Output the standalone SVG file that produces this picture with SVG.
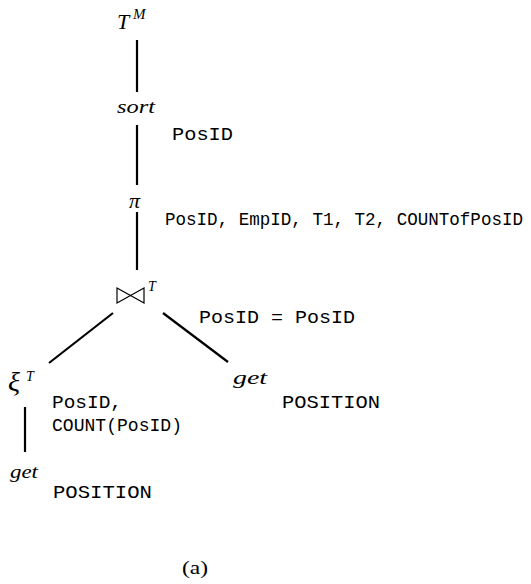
<svg xmlns="http://www.w3.org/2000/svg" width="531" height="584" viewBox="0 0 531 584">
<style>
.m{font-family:"Liberation Serif",serif;font-style:italic;fill:#000}
.t{font-family:"Liberation Mono","Courier New",monospace;font-size:19px;fill:#000}
.r{font-family:"Liberation Serif",serif;fill:#000}
.e{stroke:#000;stroke-width:2.2;fill:none}
</style>
<rect width="531" height="584" fill="#fff"/>
<g id="connectors">
<line class="e" x1="137" y1="40" x2="137" y2="92"/>
<line class="e" x1="137" y1="125" x2="137" y2="185"/>
<line class="e" x1="137" y1="212" x2="137" y2="270"/>
<line class="e" x1="113" y1="313" x2="49" y2="363"/>
<line class="e" x1="163" y1="313" x2="228" y2="362"/>
<line class="e" x1="25" y1="407" x2="25" y2="452"/>
</g>
<g id="root">
<text class="m" x="117" y="29" font-size="22">T</text>
<text class="m" x="133" y="19" font-size="15">M</text>
</g>
<g id="sort">
<text class="m" x="117" y="113" font-size="18" textLength="38" lengthAdjust="spacingAndGlyphs">sort</text>
<text class="t" x="172" y="140" textLength="61" lengthAdjust="spacingAndGlyphs">PosID</text>
</g>
<g id="project">
<text class="m" x="129" y="208" font-size="22">π</text>
<text class="t" x="165" y="225" font-size="16.5" textLength="358" lengthAdjust="spacingAndGlyphs">PosID, EmpID, T1, T2, COUNTofPosID</text>
</g>
<g id="join">
<path d="M117 288 L117 303 L144 288 L144 303 Z" fill="none" stroke="#000" stroke-width="1.2"/>
<text class="m" x="148" y="291" font-size="14">T</text>
<text class="t" x="199" y="323" textLength="156" lengthAdjust="spacingAndGlyphs">PosID = PosID</text>
</g>
<g id="xi">
<text class="m" x="8" y="391" font-size="28">ξ</text>
<text class="m" x="26" y="381" font-size="14">T</text>
<text class="t" x="52" y="408" textLength="70" lengthAdjust="spacingAndGlyphs">PosID,</text>
<text class="t" x="52" y="431" textLength="130" lengthAdjust="spacingAndGlyphs">COUNT(PosID)</text>
</g>
<g id="get_right">
<text class="m" x="233" y="384" font-size="18" textLength="34" lengthAdjust="spacingAndGlyphs">get</text>
<text class="t" x="282" y="408" textLength="98" lengthAdjust="spacingAndGlyphs">POSITION</text>
</g>
<g id="get_left">
<text class="m" x="10" y="478" font-size="18" textLength="28" lengthAdjust="spacingAndGlyphs">get</text>
<text class="t" x="53" y="498" textLength="99" lengthAdjust="spacingAndGlyphs">POSITION</text>
</g>
<text class="r" x="182" y="574" font-size="18" textLength="26" lengthAdjust="spacingAndGlyphs">(a)</text>
</svg>
